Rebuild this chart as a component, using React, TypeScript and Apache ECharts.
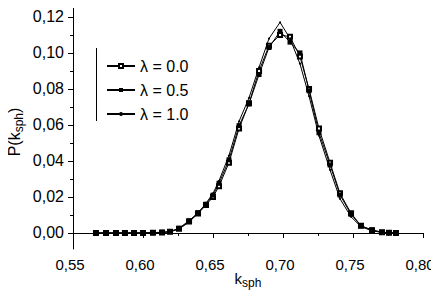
import React, { useEffect, useRef } from "react";
import * as echarts from "echarts";

const kValues = [
  0.5664, 0.5736, 0.5807, 0.5871, 0.5936, 0.6, 0.6071, 0.6136, 0.6193, 0.6257, 0.6329,
  0.6393, 0.645, 0.65, 0.6543, 0.6614, 0.6686, 0.6757, 0.6829, 0.69, 0.6979, 0.705,
  0.7121, 0.7186, 0.7257, 0.7336, 0.7407, 0.7486, 0.7557, 0.7636, 0.7707, 0.7757, 0.7807,
];
const p00 = [
  0, 0, 0, 0, 0, 0, 0.0001, 0.0003, 0.0007, 0.0024, 0.0064, 0.0108, 0.0155, 0.02, 0.026,
  0.039, 0.058, 0.072, 0.09, 0.104, 0.11, 0.109, 0.098, 0.08, 0.058, 0.039, 0.022, 0.011,
  0.004, 0.0015, 0.0004, 0.0001, 0,
];
const p05 = [
  0, 0, 0, 0, 0, 0, 0.0002, 0.0004, 0.0008, 0.0026, 0.0068, 0.0113, 0.016, 0.021, 0.0276,
  0.0406, 0.0596, 0.0717, 0.088, 0.103, 0.112, 0.106, 0.1, 0.079, 0.0557, 0.0378, 0.0211,
  0.0104, 0.0039, 0.0017, 0.0004, 0.0002, 0,
];
const p10 = [
  0, 0, 0, 0, 0, 0, 0.0001, 0.0003, 0.0006, 0.0022, 0.006, 0.011, 0.0165, 0.022, 0.029,
  0.043, 0.062, 0.075, 0.092, 0.108, 0.117, 0.108, 0.094, 0.076, 0.054, 0.035, 0.019, 0.009,
  0.0035, 0.0012, 0.0003, 0.0001, 0,
];
const seriesNames = ["λ = 0.0", "λ = 0.5", "λ = 1.0"];
const yMajorTicks = [0, 0.02, 0.04, 0.06, 0.08, 0.1, 0.12];
const yMinorTicks = [0.01, 0.03, 0.05, 0.07, 0.09, 0.11];
const yTitle = "P(k{s|sph})";
const xTitle = "k{s|sph}";

const FONT = "Liberation Sans";
const fmt = (v: number) => v.toFixed(2).replace(".", ",");
const pairs = (ys: number[]) => kValues.map((x, i) => [x, ys[i]]);

export default function App() {
  const ref = useRef<HTMLDivElement>(null);
  useEffect(() => {
    if (!ref.current) return;
    const chart = echarts.init(ref.current, undefined, { renderer: "svg" });
    const Y_MIN = -0.0089;
    const Y_MAX = 0.1294;
    const lineStyle = { color: "#000", width: 1 };
    const subRich = {
      s: { fontFamily: FONT, fontSize: 12, fill: "#000", color: "#000", padding: [10, 0, 0, 0] },
    };
    chart.setOption({
      animation: false,
      backgroundColor: "#fff",
      grid: { left: 73, right: 16, top: 0, bottom: 56, containLabel: false, outerBoundsMode: "none" },
      legend: {
        orient: "vertical",
        left: 101,
        top: 53,
        itemWidth: 28,
        itemHeight: 5,
        itemGap: 8,
        textStyle: { fontFamily: FONT, fontSize: 16, color: "#000", lineHeight: 16 },
        data: seriesNames,
      },
      xAxis: [
        {
          type: "value",
          min: 0.55,
          max: 0.8,
          interval: 0.05,
          name: xTitle,
          nameLocation: "middle",
          nameGap: 18,
          nameMoveOverlap: false,
          nameTextStyle: {
            fontFamily: FONT,
            fontSize: 15,
            color: "#000",
            rich: subRich,
          },
          axisLine: { lineStyle: { color: "#000", width: 1 } },
          axisTick: { length: 5, lineStyle: { color: "#000" } },
          minorTick: { show: true, splitNumber: 2, length: 3, lineStyle: { color: "#000" } },
          splitLine: { show: false },
          axisLabel: {
            fontFamily: FONT,
            fontSize: 15,
            color: "#000",
            margin: 8,
            formatter: (v: number) => `{a|${fmt(v)}}`,
            rich: {
              a: { fontFamily: FONT, fontSize: 15, color: "#000", padding: [0, 6, 0, 0] },
            },
          },
        },
      ],
      yAxis: [
        {
          type: "value",
          min: Y_MIN,
          max: Y_MAX,
          axisLine: { show: true, onZero: false, lineStyle: { color: "#000", width: 1 } },
          axisTick: { show: true, length: 5, customValues: yMajorTicks, lineStyle: { color: "#000" } },
          splitLine: { show: false },
          axisLabel: {
            fontFamily: FONT,
            fontSize: 16,
            color: "#000",
            margin: 9,
            customValues: yMajorTicks,
            formatter: (v: number) => fmt(v),
          },
        },
        {
          type: "value",
          min: Y_MIN,
          max: Y_MAX,
          position: "left",
          axisLine: { show: false },
          axisTick: { show: true, length: 3, customValues: yMinorTicks, lineStyle: { color: "#000" } },
          axisLabel: { show: false, customValues: yMinorTicks },
          splitLine: { show: false },
        },
      ],
      graphic: [
        {
          type: "line",
          shape: { x1: 96.5, y1: 48, x2: 96.5, y2: 121 },
          style: { stroke: "#000", lineWidth: 1 },
        },
        {
          type: "text",
          x: 14,
          y: 132,
          rotation: Math.PI / 2,
          style: {
            text: yTitle,
            fontFamily: FONT,
            fontSize: 16,
            fill: "#000",
            align: "center",
            verticalAlign: "middle",
            rich: subRich,
          },
        },
      ],
      series: [
        {
          name: seriesNames[0],
          type: "line",
          data: pairs(p00),
          symbol: "emptyRect",
          symbolSize: 4,
          lineStyle,
          itemStyle: { color: "#000", borderColor: "#000" },
        },
        {
          name: seriesNames[1],
          type: "line",
          data: pairs(p05),
          symbol: "rect",
          symbolSize: 5,
          lineStyle,
          itemStyle: { color: "#000" },
        },
        {
          name: seriesNames[2],
          type: "line",
          data: pairs(p10),
          symbol: "circle",
          symbolSize: 2,
          lineStyle,
          itemStyle: { color: "#000" },
        },
      ],
    });
    return () => chart.dispose();
  }, []);
  return <div ref={ref} style={{ width: 439, height: 305, margin: -8 }} />;
}
